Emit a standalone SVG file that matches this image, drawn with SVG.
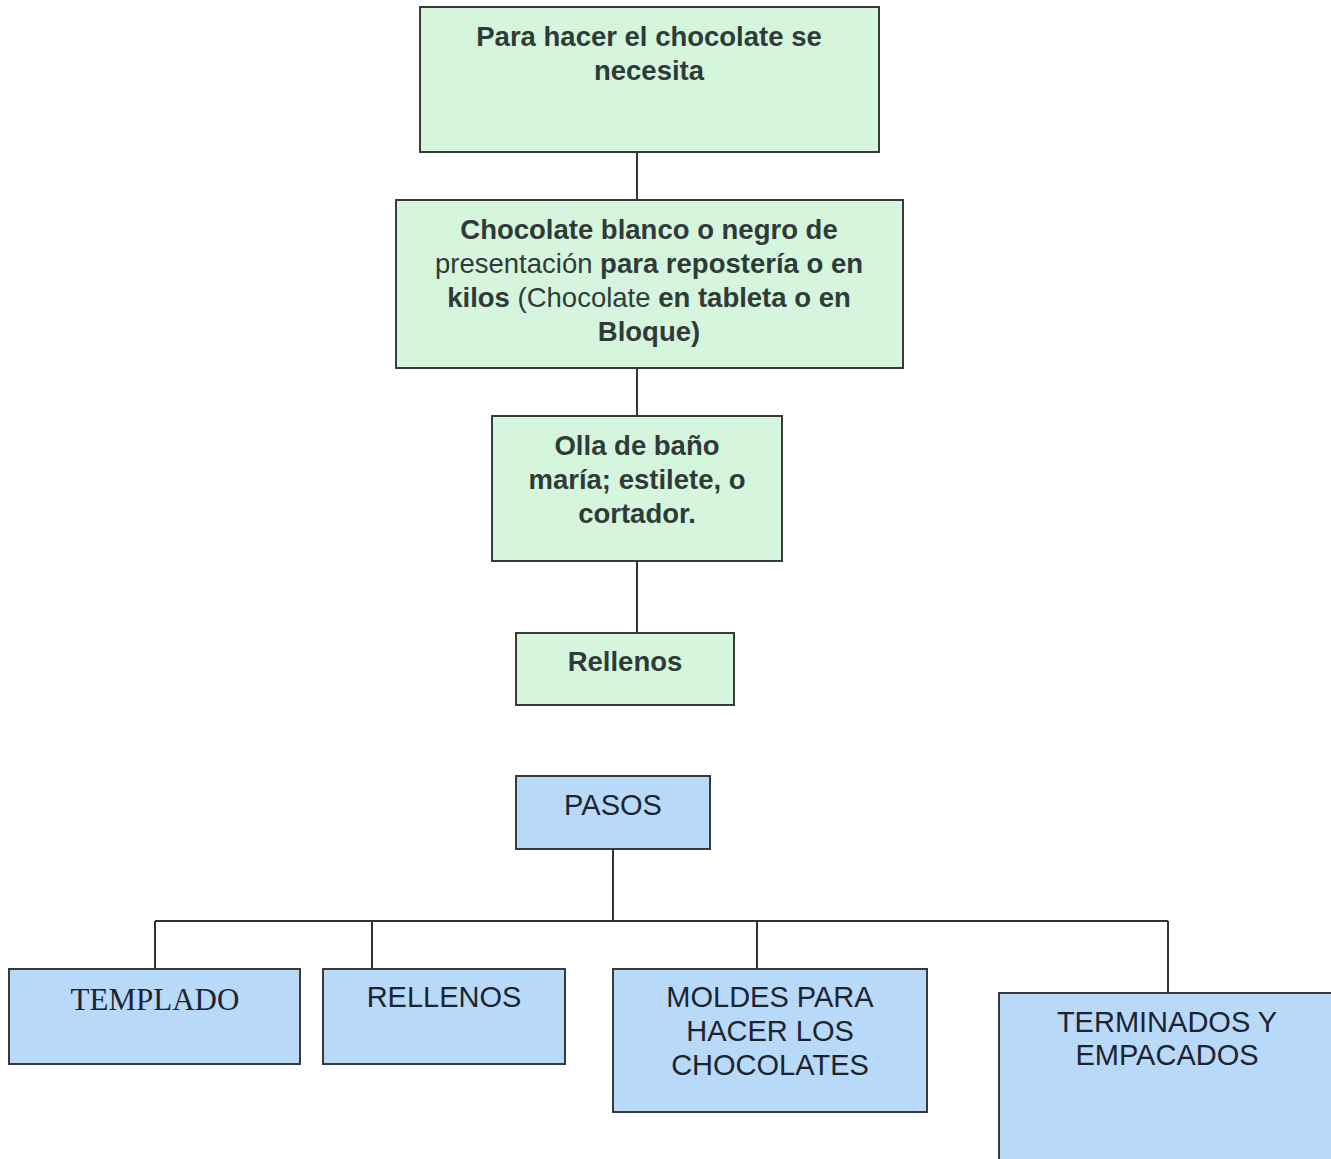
<svg xmlns="http://www.w3.org/2000/svg" width="1331" height="1159" viewBox="0 0 1331 1159">
<style>
.g{fill:#d5f6dd;stroke:#3a3a3a;stroke-width:2}
.b{fill:#b9d9f9;stroke:#3a3a3a;stroke-width:2}
.tg{font-family:"Liberation Sans",Arial,sans-serif;font-size:27.5px;font-weight:bold;fill:#2f3b38;text-anchor:middle}
.tb{font-family:"Liberation Sans",Arial,sans-serif;font-size:29px;fill:#1c2430;text-anchor:middle}
.tt{font-family:"Liberation Serif","Times New Roman",serif;font-size:31px;fill:#1c2430;text-anchor:middle}
.n{font-weight:normal}
.c{fill:none;stroke:#333;stroke-width:2}
</style>
<rect width="1331" height="1159" fill="#ffffff"/>
<g id="connectors">
<path class="c" d="M637 152V200M637 368V416M637 561V633"/>
<path class="c" d="M613 849V921M155 921H1168M155 921V969M372 921V969M757 921V969M1168 921V993"/>
</g>
<g id="n1"><rect class="g" x="420" y="7" width="459" height="145"/>
<text class="tg" x="649" y="46">Para hacer el chocolate se</text>
<text class="tg" x="649" y="80">necesita</text></g>
<g id="n2"><rect class="g" x="396" y="200" width="507" height="168"/>
<text class="tg" x="649" y="239">Chocolate blanco o negro de</text>
<text class="tg" x="649" y="273"><tspan class="n">presentación</tspan> para repostería o en</text>
<text class="tg" x="649" y="307">kilos <tspan class="n">(Chocolate</tspan> en tableta o en</text>
<text class="tg" x="649" y="341">Bloque)</text></g>
<g id="n3"><rect class="g" x="492" y="416" width="290" height="145"/>
<text class="tg" x="637" y="455">Olla de baño</text>
<text class="tg" x="637" y="489">maría; estilete, o</text>
<text class="tg" x="637" y="523">cortador.</text></g>
<g id="n4"><rect class="g" x="516" y="633" width="218" height="72"/>
<text class="tg" x="625" y="671">Rellenos</text></g>
<g id="n5"><rect class="b" x="516" y="776" width="194" height="73"/>
<text class="tb" x="613" y="815">PASOS</text></g>
<g id="n6"><rect class="b" x="9" y="969" width="291" height="95"/>
<text class="tt" x="155" y="1010">TEMPLADO</text></g>
<g id="n7"><rect class="b" x="323" y="969" width="242" height="95"/>
<text class="tb" x="444" y="1007">RELLENOS</text></g>
<g id="n8"><rect class="b" x="613" y="969" width="314" height="143"/>
<text class="tb" x="770" y="1007">MOLDES PARA</text>
<text class="tb" x="770" y="1041">HACER LOS</text>
<text class="tb" x="770" y="1075">CHOCOLATES</text></g>
<g id="n9"><rect class="b" x="999" y="993" width="340" height="180"/>
<text class="tb" x="1167" y="1032">TERMINADOS Y</text>
<text class="tb" x="1167" y="1065">EMPACADOS</text></g>
</svg>
